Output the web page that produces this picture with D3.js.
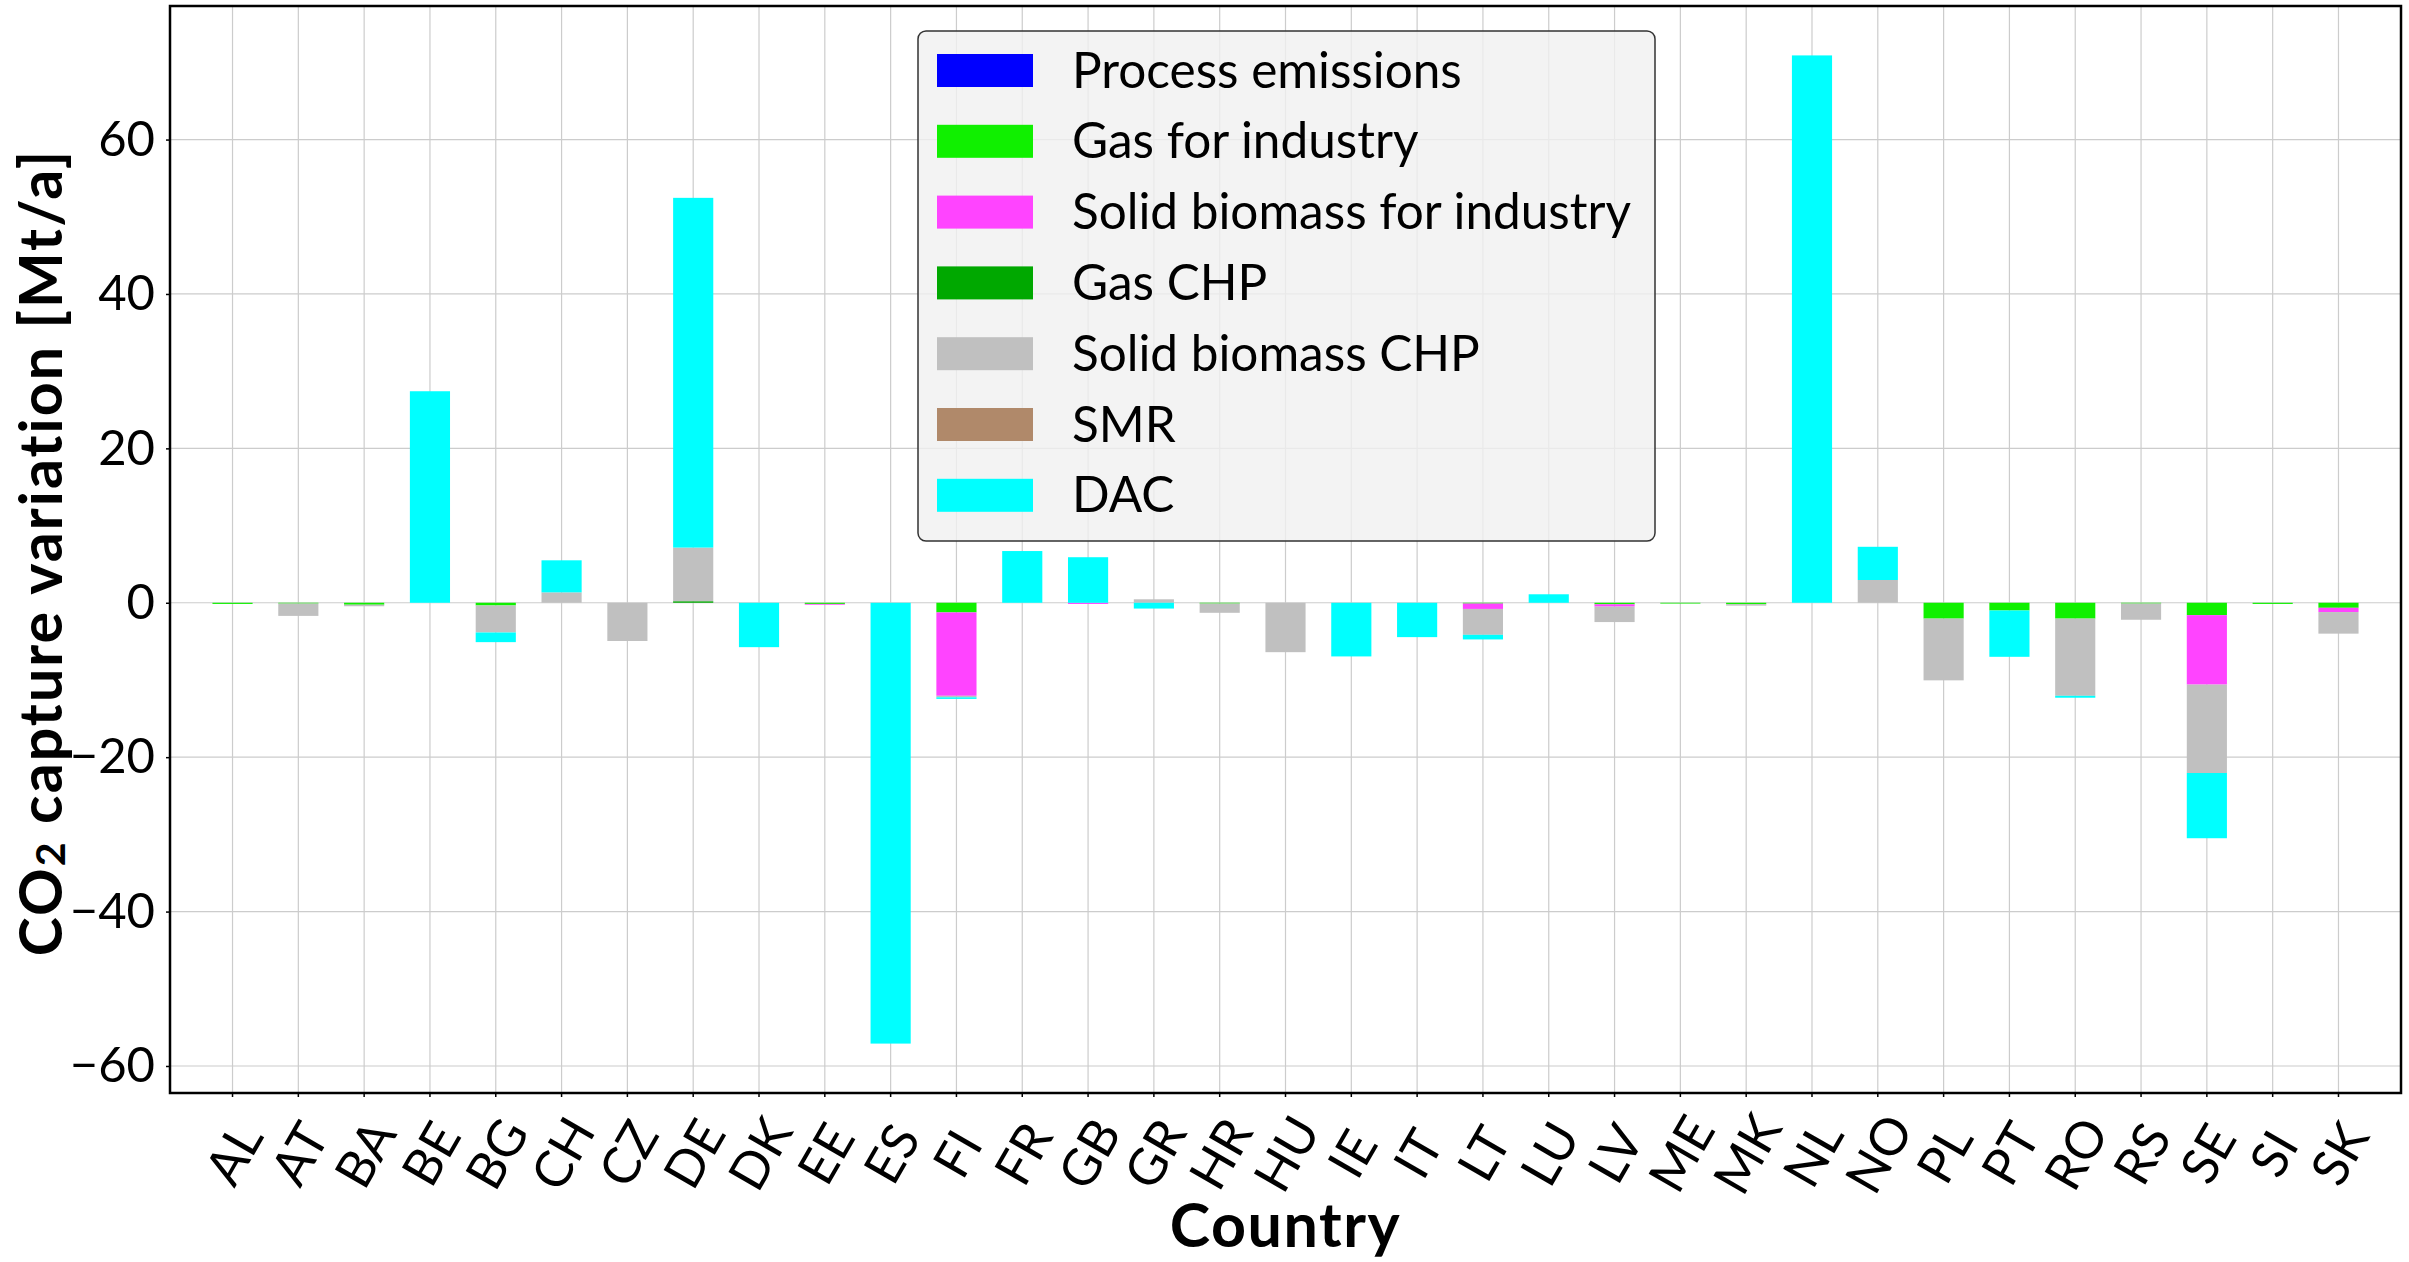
<!DOCTYPE html>
<html>
<head>
<meta charset="utf-8">
<script src="https://cdn.jsdelivr.net/npm/d3@7"></script>
<style>
  body { margin: 0; background: #fff; }
  svg { display: block; }
  text { font-family: Lato, "Open Sans", sans-serif; fill: #000; }
</style>
</head>
<body>
<div id="chart"></div>
<script>
// categories
var countries = ["AL","AT","BA","BE","BG","CH","CZ","DE","DK","EE","ES","FI","FR","GB","GR","HR","HU",
  "IE","IT","LT","LU","LV","ME","MK","NL","NO","PL","PT","RO","RS","SE","SI","SK"]

// series (Mt/a), one value per country
var processEmissions = [0,0,0,0,0,0,0,0,0,0,0,0,0,0,0,0,0,0,0,0,0,0,0,0,0,0,0,0,0,0,0,0,0]
var gasForIndustry = [-0.15,-0.1,-0.25,0,-0.35,0,0,0,0,-0.15,0,-1.25,0,0,0,-0.1,0,
  0,0,-0.1,0,-0.2,-0.1,-0.17,0,0,-2.05,-1.0,-2.05,-0.1,-1.6,-0.15,-0.65]
var solidBiomassIndustry = [0,0,0,0,0,0,0,0,0,-0.1,0,-10.8,0,-0.15,0,0,0,
  0,0,-0.7,0,-0.3,0,0,0,0,0,0,0,0,-9.0,0,-0.55]
var gasCHP = [0,0,0,0,0,0,0,0.2,0,0,0,0,0,0,0,0,0,0,0,0,0,0,0,0,0,0,0,0,0,0,0,0,0]
var solidBiomassCHP = [0,-1.6,-0.2,0,-3.5,1.35,-4.95,6.95,0,0,0,-0.2,0,0,0.45,-1.2,-6.4,
  0,0,-3.35,0,-2.0,0,-0.2,0,2.95,-8.0,0,-10.0,-2.1,-11.45,0,-2.8]
var smr = [0,0,0,0,0,0,0,0,0,0,0,0,0,0,0,0,0,0,0,0,0,0,0,0,0,0,0,0,0,0,0,0,0]
var dac = [0,0,0,27.4,-1.25,4.15,0,45.3,-5.75,0,-57.1,-0.2,6.7,5.9,-0.75,0,0,
  -6.95,-4.45,-0.6,1.1,0,0,0,70.9,4.3,0,-6.0,-0.25,0,-8.45,0,0]

var seriesNames = ["Process emissions","Gas for industry","Solid biomass for industry",
  "Gas CHP","Solid biomass CHP","SMR","DAC"]
var seriesValues = [processEmissions, gasForIndustry, solidBiomassIndustry, gasCHP, solidBiomassCHP, smr, dac]
var seriesColors = ["#0000ff","#10f000","#ff44ff","#00a800","#c0c0c0","#b0896a","#00ffff"]
var yTicks = [-60,-40,-20,0,20,40,60]

var fullWidth = 2409
var fullHeight = 1262
var plot = {left: 170, right: 2401, top: 6, bottom: 1093}

var svg = d3.select("#chart").append("svg")
  .attr("width", fullWidth)
  .attr("height", fullHeight)

var rows = countries.map(function (c, i) {
  var row = {country: c}
  seriesNames.forEach(function (s, k) { row[s] = seriesValues[k][i] })
  return row
})

var stacked = d3.stack()
  .keys(seriesNames)
  .offset(d3.stackOffsetDiverging)(rows)

// y extent with matplotlib-like 5% margin
var yMin = d3.min(stacked, s => d3.min(s, d => d[0]))
var yMax = d3.max(stacked, s => d3.max(s, d => d[1]))
var pad = (yMax - yMin) * 0.05

var x = d3.scaleBand()
  .domain(countries)
  .range([plot.left, plot.right])
  .paddingInner(0.39)
  .paddingOuter(0.645)
var y = d3.scaleLinear()
  .domain([yMin - pad, yMax + pad])
  .range([plot.bottom, plot.top])

var xc = c => x(c) + x.bandwidth() / 2

// grid
var grid = svg.append("g").attr("class", "grid")
  .attr("stroke", "#cccccc").attr("stroke-width", 1.2)
grid.selectAll(".gx").data(countries).enter().append("line")
  .attr("x1", xc).attr("x2", xc)
  .attr("y1", plot.top).attr("y2", plot.bottom)
grid.selectAll(".gy").data(yTicks).enter().append("line")
  .attr("x1", plot.left).attr("x2", plot.right)
  .attr("y1", d => y(d)).attr("y2", d => y(d))

// bars
svg.append("g").selectAll("g")
  .data(stacked)
  .enter().append("g")
  .attr("fill", (d, i) => seriesColors[i])
  .selectAll("rect")
  .data(d => d)
  .enter().append("rect")
  .attr("x", d => x(d.data.country))
  .attr("width", x.bandwidth())
  .attr("y", d => y(Math.max(d[0], d[1])))
  .attr("height", d => Math.abs(y(d[0]) - y(d[1])))

// y-axis
var yAxis = svg.append("g")
  .attr("transform", `translate(${plot.left},0)`)
  .call(d3.axisLeft(y).tickValues(yTicks).tickSize(4).tickPadding(11))
yAxis.select(".domain").remove()
yAxis.selectAll("line").attr("stroke-width", 1.5)
yAxis.selectAll("text")
  .style("font-family", "Lato, sans-serif")
  .style("font-size", "49px")

// x-axis
var xAxis = svg.append("g")
  .attr("transform", `translate(0,${plot.bottom})`)
  .call(d3.axisBottom(x).tickSize(4))
xAxis.select(".domain").remove()
xAxis.selectAll("line").attr("stroke-width", 1.5)
xAxis.selectAll("text")
  .attr("y", 0).attr("dy", null)
  .attr("text-anchor", "middle")
  .attr("dominant-baseline", "central")
  .attr("transform", "translate(0,60) rotate(-60)")
  .style("font-family", "Lato, sans-serif")
  .style("font-size", "51px")

// frame
svg.append("rect")
  .attr("x", plot.left).attr("y", plot.top)
  .attr("width", plot.right - plot.left)
  .attr("height", plot.bottom - plot.top)
  .attr("fill", "none")
  .attr("stroke", "#000")
  .attr("stroke-width", 2.5)

// axis labels
svg.append("text")
  .attr("x", (plot.left + plot.right) / 2)
  .attr("y", 1247)
  .attr("text-anchor", "middle")
  .style("font-size", "61px")
  .style("font-weight", "bold")
  .style("letter-spacing", "1.5px")
  .text("Country")

var yLabel = svg.append("text")
  .attr("transform", `translate(62,${(plot.top + plot.bottom) / 2 + 3}) rotate(-90)`)
  .attr("text-anchor", "middle")
  .style("font-size", "59px")
  .style("font-weight", "bold")
  .style("letter-spacing", "2.1px")
yLabel.append("tspan").text("CO")
yLabel.append("tspan").attr("font-size", "41px").attr("dy", 3).text("2")
yLabel.append("tspan").attr("dy", -3).text(" capture variation [Mt/a]")

// legend
var legend = svg.append("g").attr("class", "legend")
legend.append("rect")
  .attr("x", 918).attr("y", 31)
  .attr("width", 737).attr("height", 510)
  .attr("rx", 8).attr("ry", 8)
  .attr("fill", "#f0f0f0").attr("fill-opacity", 0.8)
  .attr("stroke", "#333").attr("stroke-width", 1.5)

var item = legend.selectAll(".item")
  .data(seriesNames)
  .enter().append("g")
  .attr("class", "item")
  .attr("transform", (d, i) => `translate(0,${70.5 + i * 70.8})`)
item.append("rect")
  .attr("x", 937).attr("y", -16.5)
  .attr("width", 96).attr("height", 33)
  .attr("fill", (d, i) => seriesColors[i])
item.append("text")
  .attr("x", 1072)
  .attr("y", 17)
  .style("font-size", "49.5px")
  .text(d => d)
</script>
</body>
</html>
